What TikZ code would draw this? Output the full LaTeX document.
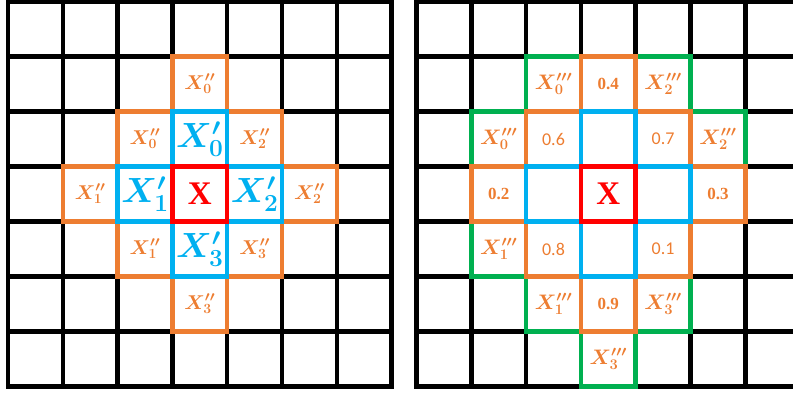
\RequirePackage{fix-cm}
\documentclass[tikz,border=0pt]{standalone}
\usepackage{bm}
\usepackage{fontspec}
\newfontfamily\carlito{Carlito}
\newfontfamily\lserif{Liberation Serif}
\definecolor{orng}{HTML}{ED7D31}
\definecolor{blu}{HTML}{00B0F0}
\definecolor{grn}{HTML}{00B050}
\definecolor{rd}{HTML}{FF0000}
\tikzset{
  gridline/.style={line width=4.5pt, draw=black, line cap=rect},
  obox/.style={draw=orng, line width=4.5pt},
  bbox/.style={draw=blu, line width=4.5pt},
  rbox/.style={draw=rd, line width=4.5pt},
  gbox/.style={draw=grn, line width=4.5pt},
  olab/.style={text=orng, inner sep=0pt, font=\fontsize{20}{24}\selectfont},
  glab/.style={text=orng, inner sep=0pt, font=\fontsize{21}{25}\selectfont},
  blab/.style={text=blu, inner sep=0pt, font=\fontsize{35}{42}\selectfont},
  rlab/.style={text=rd, inner sep=0pt, font=\lserif\bfseries\fontsize{33}{40}\selectfont},
  nser/.style={text=orng, inner sep=0pt, font=\lserif\bfseries\fontsize{17}{20}\selectfont},
  nsan/.style={text=orng, inner sep=0pt, font=\carlito\fontsize{18}{21}\selectfont}
}
\newcommand\cellrect[4]{\draw[#4] ({#1+#2*54.8},{1.5+#3*55}) rectangle ({#1+#2*54.8+54.8},{1.5+#3*55+55});}
\newcommand\lbl[6]{\node[#4] (#5) at ({#1+(#2+0.5)*54.8},{1.5+(#3+0.5)*55}) {#6};}
\newcommand\Xs[2]{$\bm{X^{#1}_{#2}}$}
\begin{document}
\begin{tikzpicture}[x=1pt,y=-1pt]
\useasboundingbox (0,0) rectangle (793,393);
\clip (0,0) rectangle (793,393);
% grids
\foreach \gx in {8,416.5}{
  \foreach \i in {0,...,7}{
    \draw[gridline] ({\gx+\i*54.8},1.5) -- ({\gx+\i*54.8},{1.5+7*55});
    \draw[gridline] (\gx,{1.5+\i*55}) -- ({\gx+7*54.8},{1.5+\i*55});
  }
}
% ---------- left grid ----------
\foreach \c/\r in {3/1,2/2,4/2,1/3,5/3,2/4,4/4,3/5}{\cellrect{8}{\c}{\r}{obox}}
\foreach \c/\r in {3/2,2/3,4/3,3/4}{\cellrect{8}{\c}{\r}{bbox}}
\cellrect{8}{3}{3}{rbox}
\lbl{8}{3}{1}{olab}{La31}{\Xs{\prime\prime}{0}}
\lbl{8}{2}{2}{olab}{La22}{\Xs{\prime\prime}{0}}
\lbl{8}{4}{2}{olab}{La42}{\Xs{\prime\prime}{2}}
\lbl{8}{1}{3}{olab}{La13}{\Xs{\prime\prime}{1}}
\lbl{8}{5}{3}{olab}{La53}{\Xs{\prime\prime}{2}}
\lbl{8}{2}{4}{olab}{La24}{\Xs{\prime\prime}{1}}
\lbl{8}{4}{4}{olab}{La44}{\Xs{\prime\prime}{3}}
\lbl{8}{3}{5}{olab}{La35}{\Xs{\prime\prime}{3}}
\lbl{8}{3}{2}{blab}{La32}{\Xs{\prime}{0}}
\lbl{8}{2}{3}{blab}{La23}{\Xs{\prime}{1}}
\lbl{8}{4}{3}{blab}{La43}{\Xs{\prime}{2}}
\lbl{8}{3}{4}{blab}{La34}{\Xs{\prime}{3}}
\lbl{8}{3}{3}{rlab}{La33}{X}
% ---------- right grid ----------
\foreach \c/\r in {2/1,4/1,1/2,5/2,1/4,2/5,4/5,3/6}{\cellrect{416.5}{\c}{\r}{gbox}}
\foreach \c/\r in {3/1,2/2,4/2,1/3,5/3,2/4,4/4,3/5}{\cellrect{416.5}{\c}{\r}{obox}}
\foreach \c/\r in {3/2,2/3,4/3,3/4}{\cellrect{416.5}{\c}{\r}{bbox}}
\cellrect{416.5}{3}{3}{rbox}
\lbl{416.5}{2}{1}{glab}{Lb21}{\Xs{\prime\prime\prime}{0}}
\lbl{416.5}{4}{1}{glab}{Lb41}{\Xs{\prime\prime\prime}{2}}
\lbl{416.5}{1}{2}{glab}{Lb12}{\Xs{\prime\prime\prime}{0}}
\lbl{416.5}{5}{2}{glab}{Lb52}{\Xs{\prime\prime\prime}{2}}
\lbl{416.5}{1}{4}{glab}{Lb14}{\Xs{\prime\prime\prime}{1}}
\lbl{416.5}{2}{5}{glab}{Lb25}{\Xs{\prime\prime\prime}{1}}
\lbl{416.5}{4}{5}{glab}{Lb45}{\Xs{\prime\prime\prime}{3}}
\lbl{416.5}{3}{6}{glab}{Lb36}{\Xs{\prime\prime\prime}{3}}
\lbl{416.5}{3}{1}{nser}{Lb31}{0.4}
\lbl{416.5}{2}{2}{nsan}{Lb22}{0.6}
\lbl{416.5}{4}{2}{nsan}{Lb42}{0.7}
\lbl{416.5}{1}{3}{nser}{Lb13}{0.2}
\lbl{416.5}{5}{3}{nser}{Lb53}{0.3}
\lbl{416.5}{2}{4}{nsan}{Lb24}{0.8}
\lbl{416.5}{4}{4}{nsan}{Lb44}{0.1}
\lbl{416.5}{3}{5}{nser}{Lb35}{0.9}
\lbl{416.5}{3}{3}{rlab}{Lb33}{X}
\end{tikzpicture}
\end{document}
